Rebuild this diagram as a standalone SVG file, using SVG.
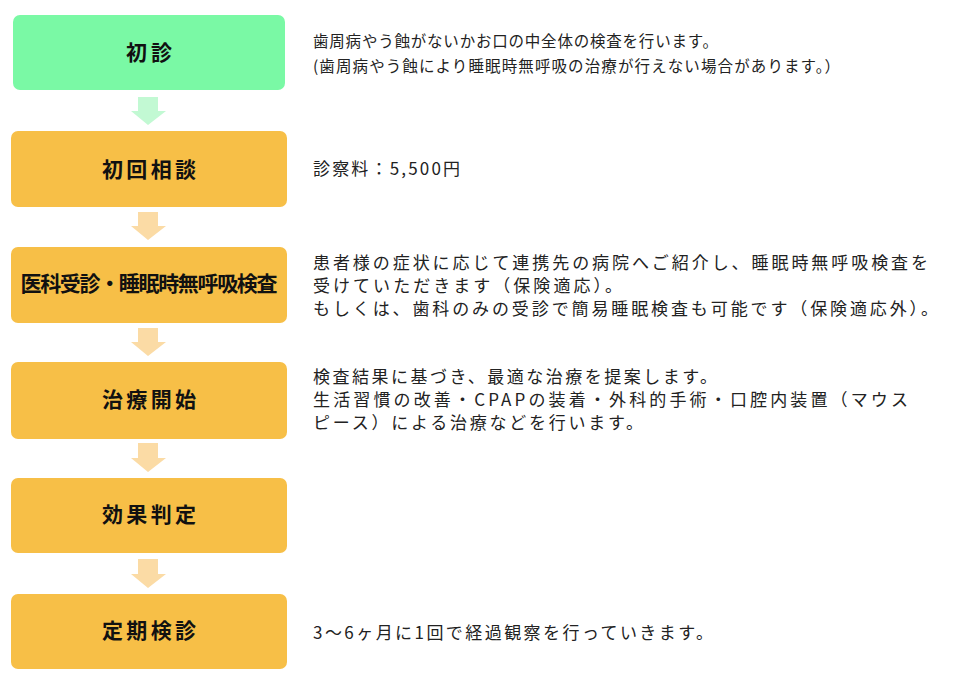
<svg xmlns="http://www.w3.org/2000/svg" width="957" height="682" viewBox="0 0 957 682">
<style>
.box{fill:#F7BF47}
.boxg{fill:#7AF9A5}
.arr{fill:#FBDBA5}
.arrg{fill:#C2F9D3}
.lbl{font-family:"Noto Sans CJK JP","Noto Sans",sans-serif;font-weight:bold;font-size:21px;fill:#111;text-anchor:middle}
.txt{font-family:"Noto Sans CJK JP","Noto Sans",sans-serif;font-size:17px;fill:#222}
.txs{font-family:"Noto Sans CJK JP","Noto Sans",sans-serif;font-size:15.5px;fill:#222}
</style>
<rect width="957" height="682" fill="#fff"/>
<g id="connectors">
<polygon class="arrg" points="138,97 158,97 158,111 166,111 148,125 131,111 138,111"/>
<polygon class="arr" points="138,212 158,212 158,226 166,226 148,240 131,226 138,226"/>
<polygon class="arr" points="138,328 158,328 158,342 166,342 148,356 131,342 138,342"/>
<polygon class="arr" points="138,443 158,443 158,458 166,458 148,472 131,458 138,458"/>
<polygon class="arr" points="138,559 158,559 158,574 166,574 148,588 131,574 138,574"/>
</g>
<g id="n1">
<rect class="boxg" x="13" y="15" width="272" height="75" rx="7"/>
<text class="lbl" x="149" y="60" textLength="46">初診</text>
<text class="txs" x="313" y="47" textLength="405">歯周病やう蝕がないかお口の中全体の検査を行います。</text>
<text class="txs" x="313" y="72" textLength="527">(歯周病やう蝕により睡眠時無呼吸の治療が行えない場合があります。）</text>
</g>
<g id="n2">
<rect class="box" x="11" y="131" width="276" height="76" rx="7"/>
<text class="lbl" x="149" y="177" textLength="94">初回相談</text>
<text class="txt" x="313" y="175" font-size="18" textLength="147">診察料：5,500円</text>
</g>
<g id="n3">
<rect class="box" x="11" y="247" width="276" height="76" rx="7"/>
<text class="lbl" x="149" y="291" font-size="18.5" textLength="257">医科受診・睡眠時無呼吸検査</text>
<text class="txt" x="313" y="269" textLength="615">患者様の症状に応じて連携先の病院へご紹介し、睡眠時無呼吸検査を</text>
<text class="txt" x="313" y="292" textLength="309">受けていただきます（保険適応）。</text>
<text class="txt" x="313" y="315" textLength="625">もしくは、歯科のみの受診で簡易睡眠検査も可能です（保険適応外）。</text>
</g>
<g id="n4">
<rect class="box" x="11" y="362" width="276" height="77" rx="7"/>
<text class="lbl" x="149" y="407" textLength="94">治療開始</text>
<text class="txt" x="313" y="383" textLength="404">検査結果に基づき、最適な治療を提案します。</text>
<text class="txt" x="313" y="406" textLength="595">生活習慣の改善・CPAPの装着・外科的手術・口腔内装置（マウス</text>
<text class="txt" x="313" y="429" textLength="330">ピース）による治療などを行います。</text>
</g>
<g id="n5">
<rect class="box" x="11" y="478" width="276" height="75" rx="7"/>
<text class="lbl" x="149" y="522" textLength="94">効果判定</text>
</g>
<g id="n6">
<rect class="box" x="11" y="594" width="276" height="75" rx="7"/>
<text class="lbl" x="149" y="638" textLength="94">定期検診</text>
<text class="txt" x="313" y="639" font-size="18" textLength="400">3〜6ヶ月に1回で経過観察を行っていきます。</text>
</g>
</svg>
